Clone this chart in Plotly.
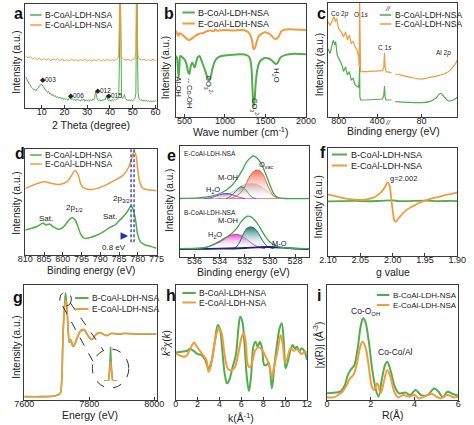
import plotly.graph_objects as go

W, H = 474, 425
GREEN = "#52ad4c"
ORANGE = "#f39a3d"
FONT = "Liberation Sans, Arial, sans-serif"
AXC = "#3a3a3a"
B_NAME = "B-CoAl-LDH-NSA"
E_NAME = "E-CoAl-LDH-NSA"

# ---------------- (a) XRD ----------------
A_B_X = [3,3.5,4,4.5,5,5.5,6,6.5,7,7.5,
         8,8.5,9,9.5,10,10.5,11,11.5,12,12.5,
         13,13.5,14,14.5,15,15.5,16,16.5,17,17.5,
         18,18.5,19,19.5,20,20.5,21,21.5,22,22.5,
         23,23.5,24,24.5,25,25.5,26,26.5,27,27.5,
         28,28.5,29,29.5,30,30.5,31,31.5,32,32.5,
         33,33.3,33.7,34.1,34.5,35,35.5,36,36.5,37,
         37.5,38,38.5,39,39.5,40,40.5,41,41.5,42,
         42.5,43,43.5,43.9,44.2,44.5,44.8,45.1,45.5,46,
         46.4,46.8,47.5,48,48.5,49,49.5,50,50.5,51,
         51.4,51.7,51.9,52.1,52.4,52.8,53.5,54,54.5,55,
         55.5,56,56.5,57,57.5,58,58.5,59,59.5,60,
         60.5]
A_B_Y = [30,27.5,26,23,22,19.5,19,17,18,16.5,
         18.5,19,21.5,22,23,21,20,17.5,17,15,
         16,13.5,14,12,13,11,12,10,11,9.5,
         10.5,9,10,8.5,9.5,8,9,7.5,9,11,
         8,9,7.5,8.5,7,8.5,7.5,8,6.5,8,
         7,8.5,6.5,8,7,8,6.5,8,7,8.5,
         8,10,16,10,8,7,8,6.5,8,7,
         8.5,8,12,8.5,7,8,6.5,8,7,8,
         7.5,8.5,9,12,50,140,50,12,9,10,
         13,9,8,7,8,6.5,8,7,8,9,
         14,60,140,60,14,9,7.5,8,6.5,7.5,
         6.5,7.5,6,7,6,7,6,7,6,7,
         6.5]
A_E_X = [3,4,5,6,7,8,9,10,11,12,13,14,15,16,17,18,19,20,21,22,23,24,25,26,27,28,29,30,
         31,32,33,34,35,36,37,38,39,40,41,42,43,43.8,44.1,44.4,44.7,45,46,47,48,49,50,51,
         51.4,51.7,52,52.3,53,54,55,56,57,58,59,60,60.5]
A_E_Y = [50,48,49.5,47,48.5,46.5,48,46,47.5,46,47.5,45.5,47,46,47.5,45.5,47,45.5,46.5,45,
         47,45.5,46.5,45,46.5,45.5,47,45,46.5,45,46.5,45.5,47,45,46.5,45.5,47,45,46.5,45.5,
         47,49,80,140,80,49,47,46,47,45.5,46.5,47.5,55,140,80,50,47,46,47,45.5,46.5,45.5,
         47,45.5,46]
A_PEAK_X = [9.6, 22.0, 33.7, 38.5]
A_PEAK_Y = [27, 12.5, 16.6, 12]
A_PEAK_LBL = ["003", "006", "012", "015"]
A_TICKS = [10, 20, 30, 40, 50, 60]

# ---------------- (b) FTIR ----------------
B_B_X = [392,405,418,428,438,450,470,500,525,545,560,575,595,612,627,645,665,685,705,730,
         760,790,805,825,850,880,920,1000,1100,1200,1260,1300,1325,1340,1353,1365,1380,1400,
         1430,1480,1530,1580,1615,1635,1655,1690,1750,1850,2000]
B_B_Y = [54,53,45,35,45,54,53,51,47,40,38,44,48,46,44,49,53,54,51,46,
         40,34,32.5,36,44,50,53,54.5,55,55.5,55,53,45,25,9,14,30,42,
         49,52,52,50,47.5,47,48.5,53,55,56,55.5]
B_E_X = [392,405,425,440,470,500,530,555,580,620,660,700,740,780,820,860,880,900,1000,1100,
         1200,1250,1300,1330,1355,1370,1390,1420,1460,1500,1560,1600,1630,1660,1700,1750,1850,2000]
B_E_Y = [76,74.5,72,74,73,71,69,68,69,71,73,74,74.5,76,76.5,76,77.5,76.5,77,76.5,
         77,76.5,74,69,60,61,66,72,74,75,73,70,69,71,76,77.5,77.5,77]
B_TICKS = [500, 1000, 1500, 2000]

# ---------------- (c) XPS survey (broken axis) ----------------
C_B_LX = [917,890,867,857,843,833,817,790,767,750,730,710,690,670,650,630,610,593,587,583,
          580,573,517,417,343,330,323,317,307,250]
C_B_LY = [60.2,55.8,64.6,67.5,63.2,66.1,54.4,50,45.6,39.8,44.2,36.8,39.8,32.5,33.9,28.1,27.2,
          26,32.5,44.2,17.8,14.9,14.9,15.5,15.8,19.3,27.2,17.8,14.9,14.9]
C_E_LX = [917,890,867,850,837,823,803,777,750,730,710,690,670,650,630,610,593,587,583,580,
          573,517,417,343,330,323,317,307,250]
C_E_LY = [83.6,80.7,85.1,88,83.6,86.5,77.8,74.9,70.5,74.9,67.5,71.9,64.6,66.1,61.7,58.8,52.9,
          44.2,105,44.2,39.8,39.8,40.1,40.6,44.2,56.4,44.2,39.8,38.9]
C_E_RX = [87.2,85.7,83.9,82.2,80.4,79.1,77.8,76.5,75.2,73.9,72.6,71.3,70.4,70]
C_E_RY = [37.7,36.8,35.4,34.2,33.3,33.6,34.8,35.4,36.5,37.7,39.8,44.2,48.5,52.3]
C_B_RX = [87.2,83.9,80.4,77.8,76.1,74.8,73.7,72.6,71.3,70]
C_B_RY = [13.5,12.9,12.6,13.5,16.4,20.8,17.3,14,14.9,17.8]

# ---------------- (d) Co 2p ----------------
D_E_X = [810,804.9,803.2,800.6,798.9,797.6,796.8,795.9,795.1,794.2,792.1,789.5,787.4,785.7,
         784.4,783.1,782,781.4,781,780.5,780.1,779.5,778.6,776.7,775]
D_E_Y = [62.9,69.2,67.6,66.7,69.2,75.5,79.6,75.5,66,62.9,61.9,64.5,68.2,71.4,
         73.9,78.6,86.5,94.3,97.5,94.3,83.3,69.2,62.9,61.3,60.7]
D_B_X = [810,808.3,806.6,805.3,804.5,803.6,802.3,801,799.8,798.9,798.1,797.4,796.7,795.9,
         795.1,794.2,792.5,790.8,789.1,787.4,786.1,784.8,783.5,782.5,781.8,781.2,780.6,780,
         779.3,778,776.3,775]
D_B_Y = [23.6,25.2,27.4,29.9,28.3,29.2,26.1,24.2,26.7,30.5,34,35.2,33,26.1,
         18.9,15.7,16.7,18.9,22,26.1,28.3,33,37.7,42.5,46.2,42.5,33,18.9,
         12.6,9.4,7.9,6.3]
D_PEAK_POS = [781.8, 781.0]
D_TICKS = [810, 805, 800, 795, 790, 785, 780, 775]

# ---------------- (e) O 1s ----------------
E_E_ENV_X = [537.2,535.7,535,534.2,533.5,533,532.6,532.2,531.85,531.5,531.35,531.1,530.7,
             530.35,530,529.7,529.35,528.8,526.9]
E_E_ENV_Y = [52.7,53.3,54.2,56.3,60.2,64.8,70.8,78.3,85.8,89.8,91,89.8,84.3,
             75.3,64.8,57.2,53.6,52.7,52.7]
E_E_OV_X = [533.2,532.8,532.4,532,531.7,531.4,531,530.6,530.3,530,529.7,529.3]
E_E_OV_Y = [52.7,54.2,57.2,63.3,70.8,75.9,78.3,75.3,67.8,60.2,54.8,52.7]
E_E_MOH_X = [534.5,534,533.5,533,532.5,532,531.5,531,530.5,530,529.5,529,528.5]
E_E_MOH_Y = [52.7,53.6,55.7,58.7,62.3,65.4,66.3,65.4,61.7,57.2,54.2,53,52.7]
E_E_T_X = [533.5,533.2,532.9,532.6,532.3,532,531.7,531.4,531.1]
E_E_T_Y = [52.7,54.2,57.2,60.8,63.3,61.7,57.2,53.6,52.7]
E_E_H2O_X = [535.2,534.8,534.4,534,533.6,533.2,532.8,532.4,532]
E_E_H2O_Y = [52.7,53.3,54.5,56,57.2,56.9,55.4,53.6,52.7]
E_E_BASE_X = [537.2, 526.9]
E_E_BASE_Y = [52.7, 52.7]
E_B_ENV_X = [537.2,535.5,535,534.5,534,533.5,533,532.6,532.3,532,531.8,531.5,531.2,530.9,
             530.6,530.3,530,529.6,529.2,528.6,526.9]
E_B_ENV_Y = [7.5,8.1,9,11.1,13.6,17.5,21.7,26.5,31.6,35.2,36.7,36.1,33.1,28.6,
             22.6,17.5,13.6,10.5,9,8.1,7.5]
E_B_MOH_X = [533,532.7,532.4,532.1,531.8,531.5,531.2,530.9,530.6,530.3,530,529.7]
E_B_MOH_Y = [7.5,9,13.6,21.1,26.2,27.1,25.6,21.1,15.1,10.5,8.4,7.5]
E_B_H2O_X = [535.5,535,534.5,534,533.5,533,532.7,532.4,532,531.6,531.2,530.8,530.4]
E_B_H2O_Y = [7.5,9,11.4,14.5,17.8,19.9,20.5,19.6,17.2,13.6,10.5,8.7,7.5]
E_B_MO_X = [537.2,534,532,531,530,529,528,526.9]
E_B_MO_Y = [7.2,7.5,8.1,8.7,9,8.4,7.5,7.2]
E_TICKS = [536, 534, 532, 530, 528]

# ---------------- (f) EPR ----------------
F_E_X = [2.10,2.09,2.08,2.07,2.06,2.05,2.04,2.03,2.025,2.02,2.015,2.011,2.008,2.005,2.003,
         2.001,1.999,1.997,1.995,1.992,1.988,1.98,1.97,1.96,1.95,1.94,1.93,1.92,1.91,1.90]
F_E_Y = [57.1,55.6,54,52.8,52.2,51.9,52.5,54,55.6,58,61.1,64.8,68.2,65.7,58,
         47.2,38,32.4,31.8,34,37,42,45.7,48.8,51.2,53.1,54.6,56.2,57.4,59]
F_B_X = [2.10,2.08,2.06,2.04,2.02,2.0,1.99,1.97,1.95,1.93,1.91,1.90]
F_B_Y = [50.5,50.8,51,50.7,51,51.5,50.8,51,51.2,50.8,51,50.8]
F_TICKS = [2.10, 2.05, 2.00, 1.95, 1.90]
F_TICKTEXT = ["2.10", "2.05", "2.00", "1.95", "1.90"]

# ---------------- (g) XANES ----------------
G_X = [7600,7653.7,7692.7,7702.4,7710.2,7715.1,7718,7721,7723.9,7726.8,7729.8,7732.7,7735.6,
       7738.5,7741.5,7744.4,7748.3,7751.2,7756.1,7762.9,7770.7,7778.5,7785.4,7792.2,7800,
       7807.8,7815.6,7824.4,7834.1,7843.9,7853.7,7868.3,7887.8,7907.3,7946.3,8006.8]
G_E_Y = [2.9,2.9,3.5,4.3,5.8,17.4,46.4,69.6,81.2,87,84.1,72.5,58,
         50.7,52.8,51.6,47.8,47,49.3,54.5,59.4,61.4,60.9,58,54.5,
         52.8,55.1,58,58.6,57.1,56.2,58,57.4,58,57.4,57.4]
G_B_Y = [2.9,2.9,3.5,4.3,5.8,17,46,69,82,93,85,72,57,
         50,52.5,51,47.2,46.5,49,54,59,61,60.5,57.6,54.2,
         52.5,55,57.8,58.4,57,56,57.8,57.3,57.8,57.3,57.3]
G_IN_X = [0, 3.5, 4.5, 5, 5.5, 6.5, 10]
G_IN_B = [0, 0, 50, 100, 50, 0, 0]
G_IN_E = [0, 0, 35, 58, 35, 0, 0]
G_TICKS = [7600, 7800, 8000]

# ---------------- (h) k-space EXAFS ----------------
H_B_X = [0,0.5,1.0,1.3,1.6,2.0,2.4,2.7,3.0,3.3,3.6,3.85,4.05,4.3,4.5,4.7,4.9,5.2,5.5,5.75,
         5.9,6.1,6.3,6.5,6.7,6.9,7.1,7.3,7.5,7.7,7.9,8.1,8.3,8.5,8.8,9.0,9.2,9.5,9.7,9.9,
         10.05,10.25,10.5,10.7,10.9,11.1,11.3,11.5,11.8,12.0]
H_B_Y = [41.2,42,42.6,44.3,42.9,40,38.8,34.8,27.5,34.8,52.2,65.2,61.4,39.1,21.7,14.5,17.4,28.4,39.1,63.8,
         72.5,68.1,47.8,20.3,7.8,21.7,46.4,50.7,46.4,50.7,44.9,30.4,30.4,32.5,10.1,27.5,43.5,62.3,66.7,47.8,
         27.5,33.3,43.5,47.8,44.9,46.4,42,44.9,42,34.8]
H_E_X = [0,0.5,0.9,1.2,1.5,1.7,1.9,2.2,2.5,2.8,3.0,3.2,3.5,3.8,4.0,4.2,4.5,4.8,5.1,5.4,
         5.7,6.0,6.2,6.4,6.6,6.8,7.0,7.3,7.6,7.9,8.2,8.5,8.8,9.0,9.3,9.6,9.8,10.0,10.2,10.5,
         10.8,11.1,11.5,11.8,12.0]
H_E_Y = [40.6,38.3,37.7,42,47.8,49.9,47,42.9,39.1,34.8,24.6,29,46.4,59.4,62.3,58,37.7,26.7,26.1,28.4,
         39.1,53.6,58,50.7,30.4,28.4,33.3,43.5,45.8,43.5,38.3,31.9,20.3,29,42,56.5,47.8,33.3,36.2,44.9,
         42.9,44.1,40,42,41.2]
H_TICKS = [0, 2, 4, 6, 8, 10, 12]

# ---------------- (i) R-space EXAFS ----------------
I_B_X = [0,0.3,0.6,0.8,0.95,1.1,1.25,1.4,1.55,1.65,1.75,1.9,2.05,2.2,2.35,2.5,2.65,2.75,2.9,3.1,
         3.3,3.6,3.8,4.05,4.3,4.6,4.9,5.1,5.3,5.5,5.75,6.0]
I_B_Y = [5.8,6.4,7.2,12.2,21.7,26.7,30.4,44.9,65.2,71,68.1,52.2,29,11.6,2.9,17.4,30.4,33.3,26.1,11.6,
         5.8,6.4,4.3,8.7,4.3,4.3,10.1,7.2,2.3,7.2,5.2,3.8]
I_E_X = [0,0.3,0.5,0.7,0.9,1.05,1.2,1.35,1.5,1.62,1.75,1.9,2.05,2.15,2.3,2.45,2.6,2.75,2.9,3.05,
         3.25,3.5,3.75,4.0,4.2,4.5,4.8,5.0,5.2,5.5,5.8,6.0]
I_E_Y = [2.3,2.3,4.3,7.2,13,18.8,21.7,30.4,44.9,50.7,46.4,30.4,11.6,8.7,14.5,5.8,15.9,26.1,20.3,8.7,
         2.3,4.3,2.9,4.3,1.4,3.5,5.2,2.9,1.4,4.3,2.3,2.9]
I_TICKS = [0, 2, 4, 6]

for xs, ys in [(A_B_X, A_B_Y), (A_E_X, A_E_Y), (B_B_X, B_B_Y), (B_E_X, B_E_Y),
               (C_B_LX, C_B_LY), (C_E_LX, C_E_LY), (C_E_RX, C_E_RY), (C_B_RX, C_B_RY),
               (D_E_X, D_E_Y), (D_B_X, D_B_Y), (F_E_X, F_E_Y), (G_X, G_E_Y), (G_X, G_B_Y),
               (H_B_X, H_B_Y), (H_E_X, H_E_Y), (I_B_X, I_B_Y), (I_E_X, I_E_Y),
               (E_E_ENV_X, E_E_ENV_Y), (E_B_ENV_X, E_B_ENV_Y)]:
    assert len(xs) == len(ys), (len(xs), len(ys))

# ============================================================
fig = go.Figure()
shapes, anns = [], []


def px(x):
    return x / W


def py(y):
    return 1 - y / H


def sfx(n):
    return "" if n == 1 else str(n)


def axes(n, box, xrange, tickvals, ticktext=None, yrange=(0, 100), xmirror=True,
         yline=True, ymirror=True, yside="left"):
    x0, x1, y0, y1 = box
    fig.update_layout({
        f"xaxis{sfx(n)}": dict(domain=[px(x0), px(x1)], range=list(xrange), anchor=f"y{sfx(n)}",
                                showline=True, mirror=xmirror, linecolor=AXC, linewidth=1,
                                ticks="inside", ticklen=3, tickcolor=AXC, tickvals=tickvals,
                                ticktext=ticktext, tickfont=dict(size=9, color="#222", family=FONT),
                                ticklabelstandoff=-5,
                                showgrid=False, zeroline=False, fixedrange=True),
        f"yaxis{sfx(n)}": dict(domain=[py(y1), py(y0)], range=list(yrange), anchor=f"x{sfx(n)}",
                                showline=yline, mirror=ymirror, side=yside, linecolor=AXC,
                                linewidth=1, showticklabels=False, ticks="", showgrid=False,
                                zeroline=False, fixedrange=True),
    })


def line(n, x, y, color, width=1.5, shape="linear", **kw):
    fig.add_trace(go.Scatter(x=x, y=y, xaxis=f"x{sfx(n)}", yaxis=f"y{sfx(n)}", mode="lines",
                             line=dict(color=color, width=width, shape=shape), hoverinfo="skip",
                             **kw))


def text(n, x, y, t, size=8, **kw):
    d = dict(x=x, y=y, xref=f"x{sfx(n)}", yref=f"y{sfx(n)}", text=t, showarrow=False,
             font=dict(size=size, color="#222", family=FONT))
    d.update(kw)
    anns.append(d)


def ptext(x, y, t, size=10, **kw):
    d = dict(x=px(x), y=py(y), xref="paper", yref="paper", text=t, showarrow=False,
             font=dict(size=size, color="#222", family=FONT))
    d.update(kw)
    anns.append(d)


def legend(x0, x1, ys, size=9, width=2):
    for yy, t, c in zip(ys, [B_NAME, E_NAME], [GREEN, ORANGE]):
        shapes.append(dict(type="line", xref="paper", yref="paper", x0=px(x0), x1=px(x1),
                           y0=py(yy), y1=py(yy), line=dict(color=c, width=width)))
        ptext(x1 + 1.5, yy, t, size=size, xanchor="left", yanchor="middle")


def frame_titles(letter, lx, ly, ytitle, ytx, yty, xtitle, xtx, xty, xsize=10.5):
    ptext(lx, ly, f"<b>{letter}</b>", size=16, xanchor="center", yanchor="middle",
          font=dict(size=16, color="#111", family="Liberation Sans, Arial"))
    ptext(ytx, yty, ytitle, size=10, textangle=-90, xanchor="center", yanchor="middle")
    ptext(xtx, xty, xtitle, size=xsize, xanchor="center", yanchor="middle")


INT = "Intensity (a.u.)"
BE = "Binding energy (eV)"

# ---- (a)
axes(1, (16, 153, 4, 108), (2.8, 60.5), A_TICKS)
line(1, A_B_X, A_B_Y, GREEN, 1)
line(1, A_E_X, A_E_Y, ORANGE, 1)
for xx, yy, lb in zip(A_PEAK_X, A_PEAK_Y, A_PEAK_LBL):
    text(1, xx, yy, "\u25c6" + lb, size=6.5, xanchor="left", xshift=-3)
legend(21, 33, [15, 25], size=8.5, width=1.5)
frame_titles("a", 9, 13, INT, 6, 62, "2 Theta (degree)", 85, 125)

# ---- (b)
axes(2, (173, 309, 4, 117), (392, 2000), B_TICKS)
line(2, B_B_X, B_B_Y, GREEN, 2, "spline", )
line(2, B_E_X, B_E_Y, ORANGE, 2, "spline")
text(2, 432, 27, "Al-OH", size=7.5, textangle=90)
text(2, 560, 21, "-- Co-OH", size=7.5, textangle=90)
text(2, 800, 28, "CO<sub>3</sub><sup>2-</sup>", size=7.5, textangle=90)
text(2, 1358, 8, "CO<sub>3</sub><sup>2-</sup>", size=7.5, textangle=90)
text(2, 1628, 37, "H<sub>2</sub>O", size=7.5, textangle=90)
legend(180, 193, [12.5, 23.5], size=9, width=2)
frame_titles("b", 166, 13, INT, 162, 68, "Wave number (cm<sup>-1</sup>)", 241, 131)

# ---- (c) broken axis
axes(3, (332, 400, 3, 117), (913, 233), [800, 400], yline=True, ymirror=False)
axes(4, (400, 467, 3, 117), (87.8, 70.2), [80, 70], yline=True, ymirror=False, yside="right")
line(3, C_B_LX, C_B_LY, GREEN, 1.2)
line(3, C_E_LX, C_E_LY, ORANGE, 1.2)
line(4, C_B_RX, C_B_RY, GREEN, 1.2, "spline")
line(4, C_E_RX, C_E_RY, ORANGE, 1.2, "spline")
text(3, 790, 90, "Co 2<i>p</i>", size=6.5)
text(3, 572, 90, "O 1<i>s</i>", size=6.5)
text(3, 317, 61, "C 1<i>s</i>", size=6.5)
text(4, 74, 56, "Al 2<i>p</i>", size=6.5)
ptext(400, 3, "<i>//</i>", size=7)
ptext(400, 117, "<i>//</i>", size=7)
legend(386, 398, [15, 24], size=8.5, width=1.5)
frame_titles("c", 325, 13, INT, 323, 65, BE, 400, 131)

# ---- (d)
axes(5, (16, 153, 149, 255), (810, 775), D_TICKS)
for xv in D_PEAK_POS:
    shapes.append(dict(type="line", xref="x5", yref="y5", x0=xv, x1=xv, y0=12, y1=100,
                       line=dict(color="#2b35a8", width=1.3, dash="3px,2px")))
line(5, D_B_X, D_B_Y, GREEN, 1.5, "spline")
line(5, D_E_X, D_E_Y, ORANGE, 1.5, "spline")
text(5, 804.5, 34, "Sat.", size=8)
text(5, 797.0, 44, "2p<sub>1/2</sub>", size=8)
text(5, 787.4, 36, "Sat.", size=8)
text(5, 784.3, 53, "2p<sub>3/2</sub>", size=8)
text(5, 786.3, 7.5, "0.8 eV", size=8)
anns.append(dict(x=782.6, y=18, ax=784.9, ay=18, xref="x5", yref="y5", axref="x5", ayref="y5",
                 text="", showarrow=True, arrowhead=2, arrowsize=0.6, arrowwidth=2.5,
                 arrowcolor="#1f3aa8"))
legend(21, 33, [155, 164], size=8.5, width=1.5)
frame_titles("d", 10, 153, INT, 6, 203, BE, 85, 270, xsize=10)

# ---- (e)
axes(6, (177, 312, 146, 257), (537.2, 526.9), E_TICKS)


def filled(n, x, y, lc, fc, base, top, lw=1):
    fig.add_trace(go.Scatter(x=x, y=y, xaxis=f"x{n}", yaxis=f"y{n}", mode="lines",
                             line=dict(color=lc, width=lw, shape="spline"), fill="toself",
                             fillgradient=dict(type="vertical", start=base, stop=top,
                                               colorscale=[[0, "rgba(255,255,255,0)"], [1, fc]]),
                             hoverinfo="skip"))


line(6, E_E_BASE_X, E_E_BASE_Y, "#e8868a", 1.2)
filled(6, E_E_MOH_X, E_E_MOH_Y, "#c9c9c9", "rgba(150,150,150,0.75)", 52.7, 66.3)
filled(6, E_E_H2O_X, E_E_H2O_Y, "#8e2fd0", "rgba(140,50,210,0.8)", 52.7, 57.2)
filled(6, E_E_T_X, E_E_T_Y, "#2c8080", "rgba(40,130,130,0.5)", 52.7, 63.3)
filled(6, E_E_OV_X, E_E_OV_Y, "#f2603f", "rgba(250,80,50,0.85)", 52.7, 78.3)
line(6, E_E_ENV_X, E_E_ENV_Y, "#3fa84a", 1.3, "spline")
filled(6, E_B_H2O_X, E_B_H2O_Y, "#e22fc4", "rgba(240,40,200,0.9)", 7.5, 20.5)
filled(6, E_B_MOH_X, E_B_MOH_Y, "#1d6d6d", "rgba(20,110,110,0.95)", 7.5, 27.1)
line(6, E_B_MO_X, E_B_MO_Y, "#1c237e", 1.8, "spline")
line(6, E_B_ENV_X, E_B_ENV_Y, "#3fa84a", 1.3, "spline")
text(6, 537.0, 93, E_NAME, size=6.5, xanchor="left")
text(6, 537.0, 40, B_NAME, size=6.5, xanchor="left")
text(6, 531.05, 83, "O<sub>vac</sub>", size=7.5, xanchor="left")
text(6, 533.35, 72, "M-OH", size=7.5)
text(6, 534.5, 60, "H<sub>2</sub>O", size=7.5)
text(6, 533.35, 33, "M-OH", size=7.5)
text(6, 534.4, 20, "H<sub>2</sub>O", size=7.5)
text(6, 529.2, 12.5, "M-O", size=7.5)
frame_titles("e", 169, 155, INT, 166, 200, BE, 244, 272)

# ---- (f)
axes(7, (332, 467, 148, 256), (2.10, 1.90), F_TICKS, F_TICKTEXT)
line(7, F_B_X, F_B_Y, GREEN, 1.8, "spline")
line(7, F_E_X, F_E_Y, ORANGE, 1.8, "spline")
text(7, 1.983, 72, "g=2.002", size=7.5)
legend(336, 352, [154.5, 165.5], size=9, width=2)
frame_titles("f", 327, 152, INT, 322, 207, "g value", 400, 272)

# ---- (g)
axes(8, (15, 153, 285, 400), (7600, 8007), G_TICKS)
line(8, G_X, G_B_Y, GREEN, 1.6, "spline")
line(8, G_X, G_E_Y, ORANGE, 1.6, "spline")
shapes.append(dict(type="circle", xref="paper", yref="paper", x0=px(52), x1=px(64),
                   y0=py(306), y1=py(292), line=dict(color="#333", width=1, dash="dash")))
shapes.append(dict(type="circle", xref="paper", yref="paper", x0=px(86), x1=px(124),
                   y0=py(388), y1=py(349), line=dict(color="#333", width=1, dash="dash")))
shapes.append(dict(type="line", xref="paper", yref="paper", x0=px(63), y0=py(303),
                   x1=px(98), y1=py(351), line=dict(color="#333", width=1, dash="dash")))
shapes.append(dict(type="line", xref="paper", yref="paper", x0=px(55), y0=py(306),
                   x1=px(87), y1=py(362), line=dict(color="#333", width=1, dash="dash")))
fig.update_layout(
    xaxis9=dict(domain=[px(98), px(112)], range=[0, 10], anchor="y9", visible=False,
                fixedrange=True),
    yaxis9=dict(domain=[py(381), py(347)], range=[0, 100], anchor="x9", visible=False,
                fixedrange=True),
)
fig.add_trace(go.Scatter(x=G_IN_X, y=G_IN_B, xaxis="x9", yaxis="y9", mode="lines",
                         line=dict(color=GREEN, width=1.5), hoverinfo="skip"))
fig.add_trace(go.Scatter(x=G_IN_X, y=G_IN_E, xaxis="x9", yaxis="y9", mode="lines",
                         line=dict(color=ORANGE, width=1.5), hoverinfo="skip"))
legend(68, 82, [298, 309], size=8.5, width=2)
frame_titles("g", 8, 297, INT, 6, 347, "Energy (eV)", 84, 415)

# ---- (h)
axes(10, (173, 310, 285, 400), (0, 12), H_TICKS)
line(10, H_B_X, H_B_Y, GREEN, 2, "spline")
line(10, H_E_X, H_E_Y, ORANGE, 2, "spline")
legend(180, 194, [293, 302.5], size=8.5, width=2)
frame_titles("h", 168, 295, "<i>k</i><sup>3</sup><i>\u03c7</i>(<i>k</i>)", 163, 343,
             "k(\u00c5<sup>-1</sup>)", 241, 417)

# ---- (i)
axes(11, (331, 468, 285, 400), (0, 6), I_TICKS)
line(11, I_B_X, I_B_Y, GREEN, 2, "spline")
line(11, I_E_X, I_E_Y, ORANGE, 2, "spline")
text(11, 1.75, 77, "Co-O<sub>OH</sub>", size=8.5)
text(11, 3.12, 42, "Co-Co/Al", size=8.5)
legend(383, 396, [295, 305], size=8, width=2)
frame_titles("i", 323, 295, "|\u03c7(R)| (\u00c5<sup>-3</sup>)", 322, 345, "R(\u00c5)", 400, 415)

fig.update_layout(
    width=W, height=H, margin=dict(l=0, r=0, t=0, b=0),
    paper_bgcolor="white", plot_bgcolor="white", showlegend=False,
    font=dict(family=FONT, size=9, color="#222"),
    shapes=shapes, annotations=anns,
)
fig.write_html("out.html", config={"displayModeBar": False},
               post_script="document.body.style.margin='0';")
